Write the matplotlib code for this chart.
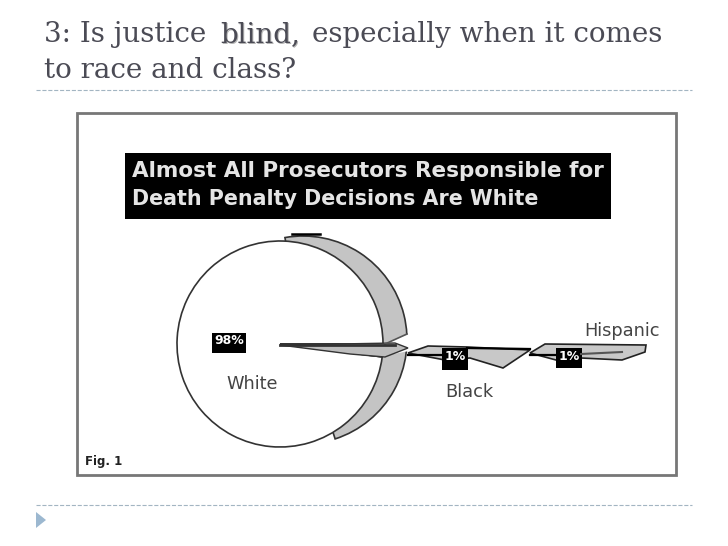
import matplotlib
matplotlib.use("Agg")
import matplotlib.pyplot as plt
from matplotlib.patches import Rectangle, Wedge, Polygon

# pie data
groups = ["White", "Black", "Hispanic"]
shares = [98, 1, 1]
share_labels = ["98%", "1%", "1%"]

title_bits = ["3: Is justice", "blind,", "especially when it comes"]
title_line2 = "to race and class?"
box_lines = ["Almost All Prosecutors Responsible for", "Death Penalty Decisions Are White"]
fig_label = "Fig. 1"

fig = plt.figure(figsize=(7.28, 5.46), dpi=100)
ax = fig.add_axes([0, 0, 1, 1])

# slide title
title_col = "#4b4b55"
ax.text(44, 35, title_bits[0], fontsize=20, family="DejaVu Serif", color=title_col, va="center")
ax.text(221, 36, title_bits[1], fontsize=20, family="DejaVu Serif", color="#b5b5b5", va="center")
ax.text(220, 35, title_bits[1], fontsize=20, family="DejaVu Serif", color=title_col, va="center")
ax.text(312, 35, title_bits[2], fontsize=20, family="DejaVu Serif", color=title_col, va="center")
ax.text(44, 71, title_line2, fontsize=20, family="DejaVu Serif", color=title_col, va="center")

# dashed rules and the bullet
ax.plot([36, 692], [90, 90], ls="--", lw=0.8, color="#a3b5c2")
ax.plot([36, 692], [505, 505], ls="--", lw=0.8, color="#a3b5c2")
ax.add_patch(Polygon([(36, 512), (46, 520), (36, 528)], color="#9cb8d0", lw=0))

# picture frame
ax.add_patch(Rectangle((77, 113), 599, 362, fc="white", ec="#777777", lw=2))

# heading box
ax.add_patch(Rectangle((125, 153), 486, 66, fc="black", ec="none"))
ax.text(132, 171, box_lines[0], fontsize=15.5, color="white", va="center", weight="bold", alpha=0.9)
ax.text(132, 199, box_lines[1], fontsize=14.9, color="white", va="center", weight="bold", alpha=0.9)

# depth of the pie, sits behind the white slice
ax.add_patch(Wedge((303, 340), 104, -100, 72, fc="#c4c4c4", ec="#333333", lw=1.2))
ax.plot([292, 320], [234, 234], color="black", lw=1.8)

# the pie itself, counterclock runs clockwise on screen since y is flipped
ax.pie(shares, startangle=7.2, center=(280, 344), radius=103, frame=True,
       colors=["white", "#555555", "#bdbdbd"],
       wedgeprops={"edgecolor": "#333333", "linewidth": 1.2})

# gap in the rim where the small slices leave the pie
ax.add_patch(Polygon([(383, 344), (409, 334), (409, 351), (383, 356)], fc="white", ec="none"))
ax.plot([385, 407], [344, 334], color="#555555", lw=1.2)
ax.add_patch(Polygon([(280, 345), (395, 343), (408, 348), (385, 357), (350, 354)], fc="#bdbdbd", ec="#333333", lw=1))
ax.plot([280, 395], [345, 345], color="#333333", lw=2)

# stretched tails of the 1% slices
ax.add_patch(Polygon([(408, 353), (428, 346), (467, 347), (530, 350), (503, 368), (470, 358), (445, 360)],
                     fc="#c8c8c8", ec="#222222", lw=1.2))
ax.add_patch(Polygon([(530, 353), (545, 344), (646, 345), (645, 352), (622, 360), (581, 358), (556, 360)],
                     fc="#c8c8c8", ec="#222222", lw=1.2))
ax.plot([408, 445], [355, 355], color="black", lw=1.6)
ax.plot([530, 556], [355, 355], color="black", lw=1.6)
ax.plot([467, 530], [348, 349], color="black", lw=1.6)
ax.plot([581, 622], [354, 352], color="#555555", lw=1.5)

# value labels
label_boxes = [(212, 333, 34, 20), (442, 348, 26, 22), (556, 348, 26, 20)]
for lab, (x, y, w, h) in zip(share_labels, label_boxes):
    ax.add_patch(Rectangle((x, y), w, h, fc="black", ec="none"))
    ax.text(x + w / 2, y + 8, lab, fontsize=9, color="white", ha="center", va="center", weight="bold")

# group names
name_pos = [(226, 384), (445, 392), (584, 331)]
for name, (x, y) in zip(groups, name_pos):
    ax.text(x, y, name, fontsize=12.8, color="#444444", va="center")

ax.text(85, 462, fig_label, fontsize=8.5, color="#222222", va="center", weight="bold")

ax.set_xlim(0, 728)
ax.set_ylim(546, 0)
ax.set_aspect("auto")
ax.axis("off")

fig.savefig("out.png", dpi=100)
